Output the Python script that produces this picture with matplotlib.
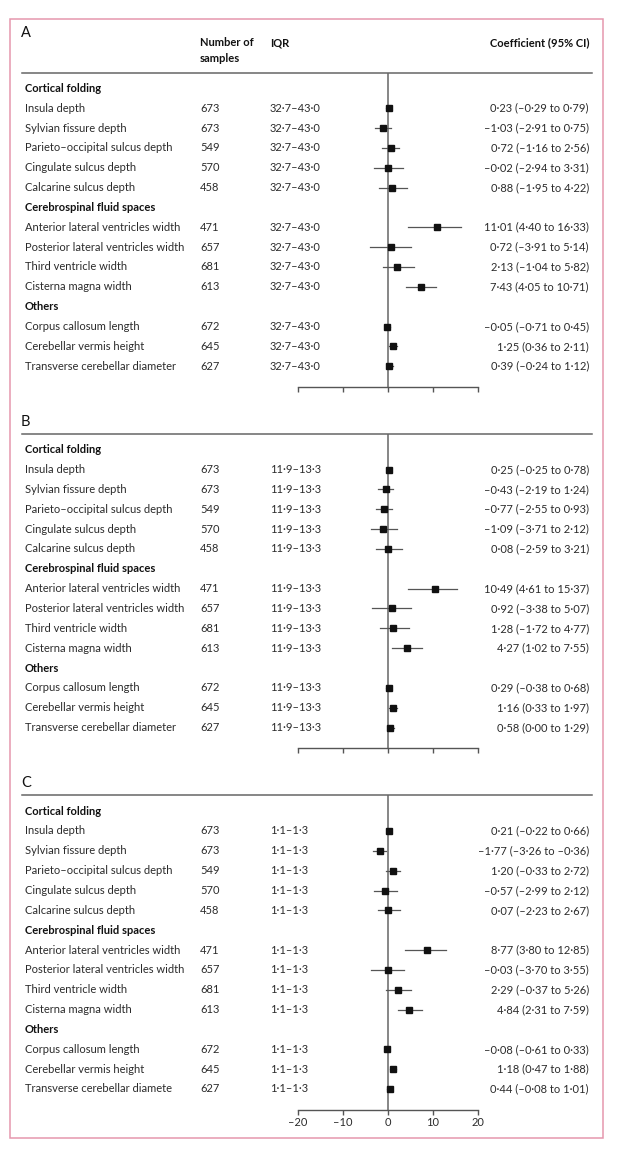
import matplotlib
matplotlib.use("Agg")
import matplotlib.pyplot as plt
import matplotlib.transforms as mtransforms
from matplotlib.patches import Rectangle
from matplotlib.ticker import FuncFormatter

plt.rcParams['font.family'] = ['Lato', 'DejaVu Sans']

# ---- data ----
groups = ["Cortical folding", "Cerebrospinal fluid spaces", "Others"]
group_sizes = [5, 4, 3]
measures = ["Insula depth", "Sylvian fissure depth", "Parieto\u2013occipital sulcus depth",
            "Cingulate sulcus depth", "Calcarine sulcus depth",
            "Anterior lateral ventricles width", "Posterior lateral ventricles width",
            "Third ventricle width", "Cisterna magna width",
            "Corpus callosum length", "Cerebellar vermis height", "Transverse cerebellar diameter"]
measures_c = measures[:-1] + ["Transverse cerebellar diamete"]
samples = [673, 673, 549, 570, 458, 471, 657, 681, 613, 672, 645, 627]

panel_letters = ["A", "B", "C"]
iqr = ["32\u00b77\u201343\u00b70", "11\u00b79\u201313\u00b73", "1\u00b71\u20131\u00b73"]

coef_a = [0.23, -1.03, 0.72, -0.02, 0.88, 11.01, 0.72, 2.13, 7.43, -0.05, 1.25, 0.39]
lo_a = [-0.29, -2.91, -1.16, -2.94, -1.95, 4.40, -3.91, -1.04, 4.05, -0.71, 0.36, -0.24]
hi_a = [0.79, 0.75, 2.56, 3.31, 4.22, 16.33, 5.14, 5.82, 10.71, 0.45, 2.11, 1.12]

coef_b = [0.25, -0.43, -0.77, -1.09, 0.08, 10.49, 0.92, 1.28, 4.27, 0.29, 1.16, 0.58]
lo_b = [-0.25, -2.19, -2.55, -3.71, -2.59, 4.61, -3.38, -1.72, 1.02, -0.38, 0.33, 0.00]
hi_b = [0.78, 1.24, 0.93, 2.12, 3.21, 15.37, 5.07, 4.77, 7.55, 0.68, 1.97, 1.29]

coef_c = [0.21, -1.77, 1.20, -0.57, 0.07, 8.77, -0.03, 2.29, 4.84, -0.08, 1.18, 0.44]
lo_c = [-0.22, -3.26, -0.33, -2.99, -2.23, 3.80, -3.70, -0.37, 2.31, -0.61, 0.47, -0.08]
hi_c = [0.66, -0.36, 2.72, 2.12, 2.67, 12.85, 3.55, 5.26, 7.59, 0.33, 1.88, 1.01]

xticks = [-20, -10, 0, 10, 20]

panels = [(coef_a, lo_a, hi_a, measures), (coef_b, lo_b, hi_b, measures),
          (coef_c, lo_c, hi_c, measures_c)]


def fmt(v):
    s = "%.2f" % abs(v)
    s = s.replace(".", "\u00b7")
    return ("\u2013" if v < 0 else "") + s


# ---- layout (pixels) ----
W, H = 618, 1151
PX_UNIT = 4.5
ZERO_PX = 387.7
ROW_H = 19.85
ROW0 = 88.3
PANEL_STEP = 361.4
AXIS_OFF = 298.4
TOP_OFF = 75

TXT = '#2b2b2b'
GREY = '#666666'
fs = 8.0

fig = plt.figure(figsize=(W / 100, H / 100), dpi=100)

# pink frame
fig.patches.append(Rectangle((10 / W, 1 - 1137.5 / H), (602.5 - 10) / W, (1137.5 - 19) / H,
                             transform=fig.transFigure, fill=False,
                             edgecolor='#e597ae', linewidth=1.1))

for k, (coef, lo, hi, names) in enumerate(panels):
    r0 = ROW0 + k * PANEL_STEP
    top = r0 - TOP_OFF
    bot = r0 + AXIS_OFF
    ax = fig.add_axes([0, 1 - bot / H, 1, (bot - top) / H])
    ax.set_xlim(-ZERO_PX / PX_UNIT, (W - ZERO_PX) / PX_UNIT)
    ax.set_ylim(AXIS_OFF / ROW_H, -TOP_OFF / ROW_H)
    ax.patch.set_visible(False)
    for s in ['top', 'left', 'right']:
        ax.spines[s].set_visible(False)
    ax.spines['bottom'].set_bounds(-20, 20)
    ax.spines['bottom'].set_color('#555555')
    ax.spines['bottom'].set_linewidth(1.0)
    ax.set_yticks([])
    ax.set_xticks(xticks)
    ax.tick_params(axis='x', direction='out', length=3.8, width=1.0, color='#555555',
                   pad=1.5, labelsize=fs, labelcolor=TXT, labelbottom=(k == 2))
    ax.xaxis.set_major_formatter(FuncFormatter(lambda v, p: fmt(v).replace("\u00b700", "")))

    tr = mtransforms.blended_transform_factory(fig.transFigure, ax.transData)

    # panel letter and header line
    letter_px = 33 if k == 0 else 60.5
    ax.text(21 / W, (letter_px - 88.3) / ROW_H, panel_letters[k], transform=tr, fontsize=10.5,
            color='#111111', va='center', ha='left')
    hline_y = (72.7 - 88.3) / ROW_H
    ax.axhline(hline_y, xmin=22 / W, xmax=592 / W, color=GREY, linewidth=1.1)
    if k == 0:
        ax.text(200 / W, (43 - 88.3) / ROW_H, "Number of", transform=tr, fontsize=fs,
                color='#111111', weight='bold', va='center')
        ax.text(200 / W, (59 - 88.3) / ROW_H, "samples", transform=tr, fontsize=fs,
                color='#111111', weight='bold', va='center')
        ax.text(270 / W, (43 - 88.3) / ROW_H, "IQR", transform=tr, fontsize=fs,
                color='#111111', weight='bold', va='center')
        ax.text(589 / W, (43 - 88.3) / ROW_H, "Coefficient (95% CI)", transform=tr,
                fontsize=fs, color='#111111', weight='bold', va='center', ha='right')

    # zero line
    ax.vlines(0, hline_y, AXIS_OFF / ROW_H, color=GREY, linewidth=1.1)

    row = 0
    i = 0
    for g, n in zip(groups, group_sizes):
        ax.text(25 / W, row, g, transform=tr, fontsize=fs, color='#111111',
                weight='bold', va='center')
        row += 1
        for _ in range(n):
            ax.text(25 / W, row, names[i], transform=tr, fontsize=fs, color=TXT, va='center')
            ax.text(200 / W, row, str(samples[i]), transform=tr, fontsize=fs, color=TXT,
                    va='center')
            ax.text(270 / W, row, iqr[k], transform=tr, fontsize=fs, color=TXT, va='center')
            ax.text(589 / W, row, "%s (%s to %s)" % (fmt(coef[i]), fmt(lo[i]), fmt(hi[i])),
                    transform=tr, fontsize=fs, color=TXT, va='center', ha='right')
            ax.plot([lo[i], hi[i]], [row, row], color='#555555', linewidth=0.9)
            ax.plot(coef[i], row, marker='s', markersize=3.8, color='#111111',
                    linestyle='none')
            row += 1
            i += 1

fig.savefig("out.png", dpi=100)
